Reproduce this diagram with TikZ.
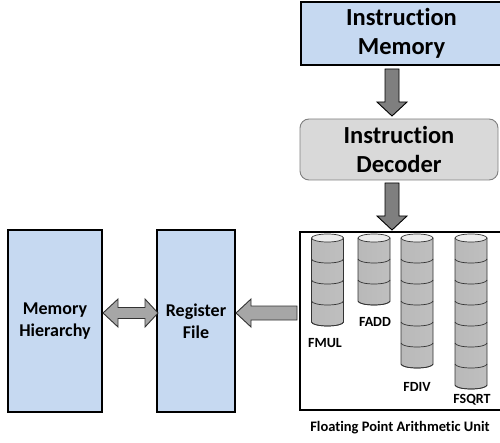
\documentclass[tikz,border=0pt]{standalone}
\usepackage{fontspec}
\setmainfont{Carlito}[Ligatures={NoCommon}]
\usetikzlibrary{calc}
\definecolor{boxblue}{HTML}{C6D9F1}
\definecolor{decgray}{HTML}{D9D9D9}
\definecolor{decedge}{HTML}{7F7F7F}
\definecolor{darrow}{HTML}{7F7F7F}
\definecolor{harrow}{HTML}{A6A6A6}
\newcommand\blockdown[2]{%
  \draw[varrowstyle] let \p1=(#1), \p2=(#2) in
    (\x1-7,\y1) -- (\x1+7,\y1) -- (\x1+7,\y2+14) -- (\x1+15,\y2+14) -- (\x2,\y2)
    -- (\x1-15,\y2+14) -- (\x1-7,\y2+14) -- cycle;}
\newcommand\cylstack[3]{%
  \shade[left color=gray!55, middle color=gray!12, right color=gray!50]
    (#1-16,-#2) -- (#1-16,-#2-#3*21) arc[start angle=180, end angle=360, x radius=16pt, y radius=4pt] -- (#1+16,-#2) -- cycle;
  \draw[cyledge] (#1-16,-#2) -- (#1-16,-#2-#3*21) arc[start angle=180, end angle=360, x radius=16pt, y radius=4pt] -- (#1+16,-#2);
  \foreach \k in {1,...,#3}{\draw[cyledge] (#1-16,-#2-\k*21) arc[start angle=180, end angle=360, x radius=16pt, y radius=4pt];}
  \filldraw[cyledge, fill=gray!15] (#1,-#2) ellipse[x radius=16pt, y radius=4pt];}
\begin{document}
\begin{tikzpicture}[x=1pt,y=1pt,
  bluebox/.style={draw=black, line width=1.8pt, fill=boxblue, align=center, inner sep=0pt, font=\fontsize{18}{22}\selectfont\bfseries},
  topbox/.style={bluebox, font=\fontsize{24.5}{29}\selectfont\bfseries},
  decbox/.style={draw=decedge, line width=0.9pt, fill=decgray, rounded corners=9pt, align=center, inner sep=0pt, font=\fontsize{24.5}{29}\selectfont\bfseries},
  fpubox/.style={draw=black, line width=1.6pt, fill=white, inner sep=0pt},
  unitlabel/.style={font=\fontsize{14}{16}\selectfont\bfseries, inner sep=0pt},
  cyledge/.style={draw=black!80, line width=0.7pt},
  varrowstyle/.style={draw=black, line width=0.9pt, fill=darrow},
  harrowstyle/.style={draw=black!80, line width=0.9pt, fill=harrow}]
\useasboundingbox (0,0) rectangle (500,-443);
% boxes
\node[topbox, minimum width=201, minimum height=63] (im) at (401.5,-33.5) {Instruction\\Memory};
\node[decbox, minimum width=198, minimum height=61] (dec) at (399,-149.5) {Instruction\\Decoder};
\node[fpubox, minimum width=204, minimum height=178] (fpu) at (402,-321) {};
\node[font=\fontsize{14.5}{16}\selectfont\bfseries, inner sep=0pt] (fpulabel) at (400,-428) {Floating Point Arithmetic Unit};
\node[bluebox, minimum width=94, minimum height=182] (mh) at (55,-321) {Memory\\Hierarchy};
\node[bluebox, minimum width=78, minimum height=182] (rf) at (196,-321) {Register\\File};
% vertical arrows
\coordinate (a1s) at (392,-69);
\coordinate (a1e) at (392,-116);
\coordinate (a2s) at (392,-183);
\coordinate (a2e) at (392,-230);
\blockdown{a1s}{a1e}
\blockdown{a2s}{a2e}
% double arrow between memory hierarchy and register file
\coordinate (da1) at (103,-313);
\coordinate (da2) at (158,-313);
\draw[harrowstyle] let \p1=(da1), \p2=(da2) in
  (\x1,\y1) -- (\x1+15,\y1+14) -- (\x1+15,\y1+5.5) -- (\x2-13,\y1+5.5) -- (\x2-13,\y1+14)
  -- (\x2,\y2) -- (\x2-13,\y1-14) -- (\x2-13,\y1-5.5) -- (\x1+15,\y1-5.5) -- (\x1+15,\y1-14) -- cycle;
% arrow from FPU to register file
\coordinate (la1) at (297,-313);
\coordinate (la2) at (236,-313);
\draw[harrowstyle] let \p1=(la1), \p2=(la2) in
  (\x1,\y1+7) -- (\x2+15,\y1+7) -- (\x2+15,\y1+14) -- (\x2,\y2) -- (\x2+15,\y1-14)
  -- (\x2+15,\y1-7) -- (\x1,\y1-7) -- cycle;
% cylinders
\cylstack{327.5}{238}{4}
\cylstack{374}{238}{3}
\cylstack{417}{238}{6}
\cylstack{471}{238}{7}
\node[unitlabel] (lfmul) at (325,-343) {FMUL};
\node[unitlabel] (lfadd) at (375,-322) {FADD};
\node[unitlabel] (lfdiv) at (417,-387) {FDIV};
\node[unitlabel] (lfsqrt) at (472,-400) {FSQRT};
\end{tikzpicture}
\end{document}
